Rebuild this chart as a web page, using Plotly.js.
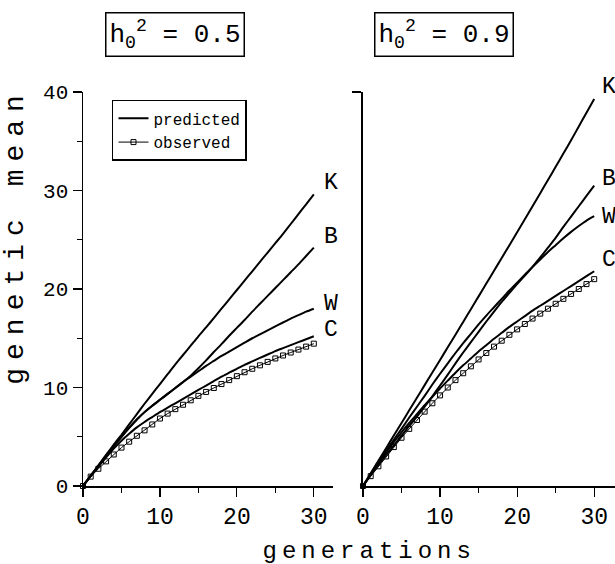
<!DOCTYPE html>
<html><head><meta charset="utf-8">
<script src="https://cdn.plot.ly/plotly-3.0.1.min.js"></script>
<style>
html,body{margin:0;padding:0;background:#fff;}
#chart{width:615px;height:564px;}
.annotation[data-index="0"] text{letter-spacing:8px;}
.annotation[data-index="1"] text{letter-spacing:5px;}
</style></head><body><div id="chart"></div>
<script>
// ---- data ----
const generations = [0,1,2,3,4,5,6,7,8,9,10,11,12,13,14,15,16,17,18,19,20,21,22,23,24,25,26,27,28,29,30];

// h0^2 = 0.5
const predK_05 = [0,1.05,2.1,3.15,4.2,5.2,6.25,7.3,8.35,9.35,10.35,11.35,12.35,13.3,14.25,15.2,16.1,17.05,18.0,18.95,19.9,20.85,21.8,22.75,23.7,24.65,25.6,26.6,27.6,28.6,29.6];
const predB_05 = [0,1.03,2.05,3.05,4.05,5.0,5.9,6.75,7.5,8.15,8.75,9.35,9.95,10.55,11.2,11.95,12.75,13.6,14.4,15.25,16.05,16.85,17.7,18.5,19.3,20.1,20.9,21.7,22.5,23.35,24.2];
const predW_05 = [0,1.03,2.05,3.05,4.05,5.0,5.9,6.75,7.5,8.15,8.75,9.35,9.95,10.55,11.1,11.65,12.2,12.7,13.2,13.65,14.1,14.55,15.0,15.4,15.8,16.2,16.6,17.0,17.35,17.7,18.0];
const predC_05 = [0,1.0,1.95,2.9,3.8,4.6,5.3,5.95,6.5,7.0,7.5,7.95,8.4,8.85,9.3,9.75,10.2,10.65,11.1,11.5,11.9,12.3,12.65,13.0,13.35,13.7,14.0,14.3,14.6,14.9,15.2];
const obs_05   = [0,0.95,1.75,2.5,3.2,3.9,4.5,5.1,5.65,6.25,6.85,7.35,7.8,8.25,8.7,9.15,9.55,9.95,10.35,10.75,11.15,11.55,11.9,12.25,12.6,12.95,13.25,13.55,13.85,14.15,14.45];

// h0^2 = 0.9
const predK_09 = [0,1.28,2.56,3.84,5.12,6.4,7.68,8.96,10.24,11.52,12.8,14.08,15.36,16.65,17.95,19.25,20.55,21.85,23.15,24.45,25.75,27.07,28.4,29.73,31.06,32.4,33.75,35.1,36.5,37.9,39.3];
const predB_09 = [0,1.1,2.15,3.15,4.1,5.1,6.1,7.05,8.05,9.1,10.2,11.3,12.45,13.55,14.6,15.65,16.7,17.7,18.7,19.6,20.5,21.35,22.25,23.2,24.2,25.2,26.3,27.35,28.4,29.45,30.5];
const predW_09 = [0,1.2,2.4,3.55,4.7,5.8,6.95,8.05,9.15,10.3,11.4,12.45,13.5,14.5,15.45,16.4,17.3,18.15,19.0,19.85,20.65,21.45,22.25,23.0,23.75,24.45,25.15,25.8,26.4,26.95,27.4];
const predC_09 = [0,1.15,2.3,3.4,4.45,5.45,6.4,7.3,8.2,9.05,9.9,10.7,11.5,12.25,12.95,13.65,14.3,14.95,15.55,16.15,16.7,17.25,17.8,18.3,18.8,19.3,19.8,20.3,20.8,21.3,21.8];
const obs_09   = [0,1.0,2.0,3.0,3.95,4.9,5.8,6.7,7.55,8.4,9.2,10.0,10.75,11.45,12.15,12.85,13.5,14.15,14.75,15.35,15.9,16.45,17.0,17.5,18.0,18.5,19.0,19.5,20.0,20.5,21.0];

const curveLabels = ['K','B','W','C'];
const panelTitles = ['h<sub>0</sub><sup>2</sup> = 0.5', 'h<sub>0</sub><sup>2</sup> = 0.9'];
const yTitle = 'genetic mean';
const xTitle = 'generations';
const legendNames = ['predicted','observed'];

// ---- styling ----
const FONT = 'Liberation Mono, DejaVu Sans Mono, monospace';
const BLACK = '#000';

const panels = [
  {xa:'x', ya:'y', preds:[predK_05,predB_05,predW_05,predC_05], obs:obs_05, shifts:[[8,11],[8,11],[8,5],[8,6]]},
  {xa:'x2', ya:'y2', preds:[predK_09,predB_09,predW_09,predC_09], obs:obs_09, shifts:[[6,12],[6,7],[6,-1],[6,11]]}
];

const traces = [];
const labelAnns = [];
panels.forEach((p, pi) => {
  p.preds.forEach((ys, ci) => {
    traces.push({
      x: generations, y: ys, xaxis: p.xa, yaxis: p.ya,
      type:'scatter', mode:'lines', name: legendNames[0],
      showlegend: pi===0 && ci===0, legendrank: 1,
      line:{color:BLACK, width:2, shape:'spline', smoothing:0.6}, hoverinfo:'skip', cliponaxis:false
    });
    labelAnns.push({
      xref:p.xa, yref:p.ya, x: generations[generations.length-1], y: ys[ys.length-1],
      text: curveLabels[ci], showarrow:false, xanchor:'left', yanchor:'middle',
      xshift: p.shifts[ci][0], yshift: p.shifts[ci][1],
      font:{family:FONT, size:23, color:BLACK}
    });
  });
  traces.push({
    x: generations, y: p.obs, xaxis: p.xa, yaxis: p.ya,
    type:'scatter', mode:'lines+markers', name: legendNames[1],
    showlegend: pi===0, legendrank: 2,
    line:{color:BLACK, width:1},
    marker:{symbol:'square-open', size:5, color:BLACK, line:{width:1, color:BLACK}},
    hoverinfo:'skip', cliponaxis:false
  });
});

const xCommon = {
  showline:true, linecolor:BLACK, linewidth:1.5, mirror:false,
  ticks:'outside', ticklen:9, tickwidth:1.2, tickcolor:BLACK,
  tickmode:'linear', tick0:0, dtick:10,
  minor:{ticks:'outside', ticklen:5, tickwidth:1.2, tickcolor:BLACK, dtick:5, tick0:0},
  showgrid:false, zeroline:false, fixedrange:true,
  tickfont:{family:FONT, size:23, color:BLACK}
};
const yCommon = {
  showline:true, linecolor:BLACK, linewidth:1.5, mirror:false,
  ticks:'outside', ticklen:9, tickwidth:1.2, tickcolor:BLACK,
  showgrid:false, zeroline:false, fixedrange:true, range:[0,40],
  tickfont:{family:FONT, size:21, color:BLACK}
};

const annotations = [
  {xref:'paper', yref:'paper', x:-0.126, y:0.635, text:yTitle, textangle:-90, showarrow:false,
   xanchor:'center', yanchor:'middle', font:{family:FONT, size:28, color:BLACK}},
  {xref:'paper', yref:'paper', x:0.5376, y:-0.165, text:xTitle, showarrow:false,
   xanchor:'center', yanchor:'middle', font:{family:FONT, size:24, color:BLACK}},
  {xref:'paper', yref:'paper', x:0.173, y:1.147, text:panelTitles[0], showarrow:false,
   xanchor:'center', yanchor:'middle', bordercolor:BLACK, borderwidth:1.5, borderpad:3,
   font:{family:FONT, size:26, color:BLACK}},
  {xref:'paper', yref:'paper', x:0.6786, y:1.147, text:panelTitles[1], showarrow:false,
   xanchor:'center', yanchor:'middle', bordercolor:BLACK, borderwidth:1.5, borderpad:3,
   font:{family:FONT, size:26, color:BLACK}}
].concat(labelAnns);

const layout = {
  width:615, height:564,
  margin:{l:83, r:0, t:92, b:78},
  paper_bgcolor:'#fff', plot_bgcolor:'rgba(0,0,0,0)',
  font:{family:FONT, color:BLACK},
  showlegend:true,
  legend:{x:0.0545, y:0.98, xanchor:'left', yanchor:'top', bordercolor:BLACK, borderwidth:1.5,
          bgcolor:'#fff', font:{family:FONT, size:16, color:BLACK}, tracegroupgap:0, itemwidth:30},
  xaxis: Object.assign({}, xCommon, {domain:[0,0.47], range:[0,32.5], anchor:'y'}),
  xaxis2: Object.assign({}, xCommon, {domain:[0.5263,1], range:[0,32.7], anchor:'y2'}),
  yaxis: Object.assign({}, yCommon, {domain:[0,1], anchor:'x', tickmode:'linear', tick0:0, dtick:10,
          minor:{ticks:'outside', ticklen:5, tickwidth:1.2, tickcolor:BLACK, dtick:5, tick0:0}}),
  yaxis2: Object.assign({}, yCommon, {domain:[0,1], anchor:'x2', tickmode:'array', tickvals:[40], showticklabels:false}),
  shapes: [
    {type:'line', xref:'paper', yref:'paper', x0:0.0545, x1:0.305, y0:0.906, y1:0.906, line:{color:BLACK, width:1.2}}
  ],
  annotations: annotations
};

Plotly.newPlot('chart', traces, layout, {staticPlot:true, displayModeBar:false});
</script></body></html>
